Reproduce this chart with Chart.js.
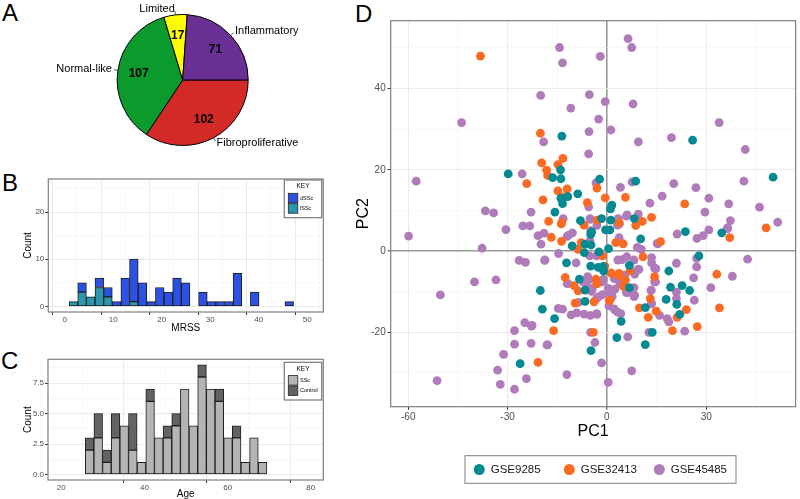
<!DOCTYPE html>
<html><head><meta charset="utf-8">
<script src="https://cdn.jsdelivr.net/npm/chart.js@4.4.1/dist/chart.umd.min.js"></script>
<style>
html,body{margin:0;padding:0;background:#fff;width:800px;height:499px;overflow:hidden;position:relative;}
canvas{position:absolute;}
.lt{position:absolute;font-family:"Liberation Sans",Arial,sans-serif;font-size:24px;line-height:24px;color:#000;}
</style></head><body>
<div class="lt" style="left:2px;top:1px">A</div>
<div class="lt" style="left:2px;top:171px">B</div>
<div class="lt" style="left:1px;top:349px">C</div>
<div class="lt" style="left:355px;top:2px">D</div>
<canvas id="cA" width="340" height="165" style="left:0;top:0"></canvas>
<canvas id="cB" width="340" height="170" style="left:0;top:165px"></canvas>
<canvas id="cC" width="340" height="169" style="left:0;top:330px"></canvas>
<canvas id="cD" width="460" height="499" style="left:340px;top:0"></canvas>
<script>
// ---------------- DATA ----------------
// Panel A: subtype counts (clockwise from 3 o'clock)
const subtypeLabels = ['Fibroproliferative', 'Normal-like', 'Limited', 'Inflammatory'];
const subtypeCounts = [102, 107, 17, 71];
const subtypeColors = ['#D42A27', '#0B9A2C', '#FFFF00', '#6A3096'];

// Panel B: MRSS histogram (bin centres, counts)
const mrssBins = [1.78,3.56,5.34,7.12,8.90,10.68,12.46,14.24,16.02,17.80,19.58,21.36,23.14,24.92,26.70,28.48,30.26,32.04,33.82,35.60,37.38,39.16,40.94,42.72,44.50,46.28];
const mrssLSSc = [1,3,2,4,2,0,0,1,0,0,0,0,0,0,0,0,0,0,0,0,0,0,0,0,0,0];
const mrssDSSc = [0,2,0,2,2,1,6,9,5,1,4,3,6,5,0,3,1,1,1,7,0,3,0,0,0,1];
const mrssKeys = ['dSSc', 'lSSc'];

// Panel C: Age histogram
const ageBins = [26.80,28.88,30.96,33.04,35.12,37.20,39.28,41.36,43.44,45.52,47.60,49.68,51.76,53.84,55.92,58.00,60.08,62.16,64.24,66.32,68.40];
const ageSSc = [2,3,1,3,4,2,1,6,3,3,4,7,4,8,7,6,3,3,1,3,1];
const ageControl = [1,2,1,2,0,3,0,1,0,1,1,0,0,1,0,1,0,1,0,0,0];
const ageKeys = ['SSc', 'Control'];

// Panel D: PCA scores [PC1, PC2]
const gse9285 = [[-13.6,28.3],[25.9,27.3],[-29.8,19.0],[-16.4,18.1],[-14.0,20.0],[-13.9,17.8],[-2.2,17.7],[8.7,17.2],[50.2,18.2],[-8.8,14.1],[-11.8,13.4],[-13.9,13.0],[-13.4,11.7],[1.5,11.3],[1.1,10.4],[-15.7,9.6],
[-20.1,-9.7],[-19.5,-14.3],[-15.8,-16.6],[-26.2,-27.7],[-4.8,-24.5],[3.0,-21.3],[11.6,-23.0],[13.7,-20.0],[4.3,-17.3],[22.0,-15.6],[11.6,-13.9],[17.9,-11.9],[21.1,-13.1],[22.7,-8.5],[25.0,-9.7],[19.2,-8.9],[27.8,-1.2],[18.7,-4.9],[23.7,4.8],[34.7,4.5],[8.3,8.0],[10.2,3.0],[0.5,0.6],[1.2,7.6],[-0.4,5.2],[0.9,5.2],[-1.6,8.0],[-8.0,7.5],[-4.9,4.1],[-10.5,1.3],[-6.6,1.7],[-4.8,1.5],[-6.8,-0.4],[-12.2,-2.9],[-4.9,-3.7],[-2.4,-0.2],[-2.6,-4.0],[-1.0,-4.9],[6.8,-3.5],[-8.3,-6.9],[-6.6,-9.6],[6.8,-9.0],[-4.6,4.7],[-6.6,-12.4],[-1.1,-3.8]];
const gse32413 = [[-38.2,48.0],[-20.1,29.0],[-13.3,22.8],[-19.7,21.7],[-14.8,21.3],[-18.2,19.9],[-17.9,18.6],[-24.2,16.6],[-3.0,15.5],[-12.0,15.3],[-14.8,14.8],[-12.7,13.4],[-0.5,13.1],[5.6,13.2],[-19.3,12.6],[-5.9,11.9],[23.5,11.6],[13.5,8.3],
[-16.1,-19.6],[-20.8,-27.4],[-4.1,-20.0],[19.8,-19.6],[27.3,-18.6],[21.2,-16.3],[12.5,-16.3],[14.9,-14.8],[9.8,-14.0],[24.0,-14.4],[34.0,-14.0],[13.1,-11.7],[33.2,-5.7],[14.4,-6.3],[10.9,-1.4],[16.2,2.3],[37.1,3.3],[48.1,5.7],[10.7,7.3],[8.7,6.3],[2.7,2.1],[4.9,1.8],[-1.3,-1.2],[-0.6,-3.7],[-6.9,6.4],[-2.9,7.6],[-13.6,7.0],[-16.8,3.4],[-17.6,7.3],[-13.7,2.4],[-8.7,0.4],[-7.8,2.1],[1.3,-5.4],[3.7,-5.5],[5.6,-7.1],[7.0,-4.8],[-12.6,-6.5],[-3.3,-6.9],[-2.9,-8.0],[-9.9,-8.5],[-8.7,-9.8],[0.9,-12.1],[-9.6,-12.8],[-3.9,-12.5],[3.7,7.0],[-13.8,6.7],[3.4,-6.0],[4.9,-8.6],[0.7,-12.2],[-3.1,-8.0]];
const gse45485 = [[-43.9,31.6],[-57.6,17.2],[-14.3,50.1],[-13.4,46.3],[-2.0,47.9],[6.4,52.3],[7.5,50.1],[-20.0,38.3],[-5.3,38.5],[-0.5,36.8],[7.9,36.2],[-10.9,35.2],[-2.5,32.5],[1.2,29.8],[-5.4,29.4],[33.9,31.6],[-19.1,26.9],[9.5,26.9],[19.5,27.9],[41.8,25.0],[-5.5,23.9],[-25.6,19.0],[-3.3,16.8],[7.6,17.0],[41.4,17.2],[20.2,16.6],[4.1,15.7],[26.9,15.6],[16.7,13.5],[30.8,13.0],[13.0,11.8],[36.8,11.6],[-5.5,10.9],[46.1,10.8],[-36.7,9.9],[-34.2,9.4],[-22.9,9.6],[29.6,9.6],[6.1,8.9],[9.5,9.1],
[-59.9,3.7],[-37.7,0.7],[-30.5,5.3],[-25.4,6.2],[-23.3,6.2],[-40.0,-7.6],[-33.5,-7.1],[-50.3,-10.8],[-26.5,-2.3],[-24.6,-2.8],[-18.7,-2.2],[-20.8,3.8],[-19.0,4.4],[-19.9,1.7],[-14.7,-14.1],[-13.4,-14.3],[-24.8,-17.6],[-22.8,-18.5],[-27.9,-19.6],[-27.9,-22.9],[-22.9,-22.7],[-17.9,-23.1],[-31.2,-25.4],[-33.0,-29.3],[-24.3,-31.4],[-32.2,-32.8],[-27.9,-34.0],[-51.3,-31.9],[-12.1,-30.4],[-3.6,-22.5],[-4.9,-20.0],[-1.6,-27.5],[0.4,-32.3],[6.3,-21.1],[7.5,-29.5],[12.7,-20.0],[23.5,-19.7],[18.2,-16.6],[18.7,-17.4],[15.9,-15.8],[21.0,-11.7],[26.4,-12.1],[21.0,-10.1],[26.2,-6.6],[31.4,-9.0],[37.9,-6.2],[42.5,-2.0],[27.1,-1.8],[27.1,-3.9],[14.8,-4.3],[14.7,-7.6],[13.4,-9.6],[13.5,-12.9],[21.0,-3.0],[13.5,-2.9],[13.5,-1.6],[15.2,1.9],[21.2,4.2],[27.2,3.1],[29.1,3.8],[30.8,5.2],[36.5,5.5],[37.3,7.5],[51.6,7.1],[36.4,5.7],[3.8,6.7],[3.2,6.4],[3.7,3.3],[9.2,0.9],[10.4,0.4],[-5.0,7.8],[-3.0,6.3],[-12.0,3.6],[-10.4,4.5],[-4.9,5.0],[-14.6,-0.6],[-9.3,-2.9],[-5.2,-1.2],[-3.1,-1.2],[3.7,-7.1],[3.3,-2.2],[4.6,-2.1],[6.0,-1.4],[5.4,-5.9],[8.4,-5.7],[9.7,-4.5],[8.2,-2.2],[-7.1,-7.3],[-5.8,-6.3],[-1.1,-7.0],[-12.0,-8.0],[-4.4,-9.2],[-2.4,-11.2],[-3.1,-11.7],[-1.3,-10.7],[0.4,-9.2],[0.6,-13.5],[2.4,-14.5],[4.2,-15.4],[1.6,-11.2],[5.9,-10.2],[8.2,-9.0],[8.2,-11.2],[-8.6,-12.6],[-10.8,-15.7],[-9.1,-15.2],[-6.9,-15.5],[-5.0,-15.8],[-3.0,-15.6],[-13.2,8.0],[-11.6,3.9],[-18.8,-2.3],[5.9,8.6],[3.4,8.0],[-5.1,8.0],[-5.1,2.5],[-5.4,-7.0],[-4.6,-9.9],[-1.4,-7.6],[1.2,-10.5],[2.4,-9.4],[2.2,-6.8],[3.9,-8.0],[6.4,-10.1],[8.4,-10.9],[2.2,-14.2],[3.3,-15.0],[-22.6,-18.3],[-18.1,-23.1],[-6.1,-8.5],[-7.1,-7.6],[-11.8,-8.0],[15.4,1.8],[9.4,-4.5],[14.4,-4.2],[14.4,-7.6],[13.3,-9.7],[13.4,-13.0],[-3.1,-15.4]];
const pcaSeries = ['GSE9285', 'GSE32413', 'GSE45485'];

// ---------------- STYLE / HELPERS ----------------
const FONT = '"Liberation Sans", Arial, Helvetica, sans-serif';
Chart.defaults.font.family = FONT;
Chart.defaults.color = '#000';

const isMult = (v, m) => Math.abs(v / m - Math.round(v / m)) < 1e-6;

function gridOpts(major) {
  return {
    color: c => (c.tick && isMult(c.tick.value, major)) ? '#EBEBEB' : '#F4F4F4',
    lineWidth: c => (c.tick && isMult(c.tick.value, major)) ? 1 : 0.6,
    tickColor: c => (c.tick && isMult(c.tick.value, major)) ? '#333333' : 'rgba(0,0,0,0)',
    tickLength: 3, tickWidth: 1, drawTicks: true
  };
}
const panelBorder = {
  id: 'panelBorder',
  afterDraw(chart) {
    const a = chart.chartArea, ctx = chart.ctx;
    ctx.save(); ctx.strokeStyle = '#7F7F7F'; ctx.lineWidth = 1.2;
    ctx.strokeRect(a.left, a.top, a.right - a.left, a.bottom - a.top);
    ctx.restore();
  }
};

// ---------------- PANEL A ----------------
const pieLabels = {
  id: 'pieLabels',
  afterDatasetsDraw(chart) {
    const ctx = chart.ctx, meta = chart.getDatasetMeta(0);
    ctx.save();
    meta.data.forEach((arc, i) => {
      const p = arc.getProps(['x', 'y', 'startAngle', 'endAngle', 'outerRadius'], true);
      const mid = (p.startAngle + p.endAngle) / 2, c = Math.cos(mid), s = Math.sin(mid), r = p.outerRadius;
      ctx.fillStyle = '#000';
      ctx.font = 'bold 12px ' + FONT; ctx.textAlign = 'center'; ctx.textBaseline = 'middle';
      ctx.fillText(String(chart.data.datasets[0].data[i]), p.x + c * r * 0.68, p.y + s * r * 0.68);
      ctx.strokeStyle = '#333'; ctx.lineWidth = 0.8;
      ctx.beginPath(); ctx.moveTo(p.x + c * r, p.y + s * r); ctx.lineTo(p.x + c * (r + 4), p.y + s * (r + 4)); ctx.stroke();
      ctx.font = '11px ' + FONT; ctx.textAlign = c < 0 ? 'right' : 'left';
      ctx.fillText(chart.data.labels[i], p.x + c * (r + 6), p.y + s * (r + 6));
    });
    ctx.restore();
  }
};
new Chart(document.getElementById('cA'), {
  type: 'pie',
  data: { labels: subtypeLabels, datasets: [{ data: subtypeCounts, backgroundColor: subtypeColors, borderColor: '#000', borderWidth: 1 }] },
  options: {
    responsive: false, animation: false, events: [], rotation: 90,
    layout: { padding: { left: 116.7, right: 91.3, top: 14, bottom: 19 } },
    plugins: { legend: { display: false }, tooltip: { enabled: false } }
  },
  plugins: [pieLabels]
});

// ---------------- PANELS B & C ----------------
function keyLegend(items, dx, dy) {
  return {
    id: 'keyLegend',
    afterDraw(chart) {
      const a = chart.chartArea, ctx = chart.ctx;
      const w = 37.4, h = 37.7, x0 = a.right - dx - w, y0 = a.top + dy;
      ctx.save();
      ctx.fillStyle = '#fff'; ctx.fillRect(x0, y0, w, h);
      ctx.strokeStyle = '#777'; ctx.lineWidth = 1.2; ctx.strokeRect(x0, y0, w, h);
      ctx.fillStyle = '#000'; ctx.font = '6.5px ' + FONT; ctx.textAlign = 'center'; ctx.textBaseline = 'middle';
      ctx.fillText('KEY', x0 + w / 2, y0 + 6.7);
      items.forEach((it, i) => {
        const sy = y0 + 13.3 + i * 10.4;
        ctx.fillStyle = it.color; ctx.fillRect(x0 + 4, sy, 9.5, 9.5);
        ctx.strokeStyle = '#222'; ctx.lineWidth = 0.8; ctx.strokeRect(x0 + 4, sy, 9.5, 9.5);
        ctx.fillStyle = '#000'; ctx.font = '5.5px ' + FONT; ctx.textAlign = 'left';
        ctx.fillText(it.label, x0 + 15.7, sy + 4.9);
      });
      ctx.restore();
    }
  };
}
function histChart(id, o) {
  const nz = arr => arr.map(v => v === 0 ? null : v);
  const ds = o.series.map(s => ({
    label: s.label, data: o.bins.map((b, i) => ({ x: b, y: nz(s.values)[i] })),
    backgroundColor: s.color, borderColor: '#1E1E1E', borderWidth: 1, borderSkipped: false,
    barPercentage: 1, categoryPercentage: 1
  }));
  return new Chart(document.getElementById(id), {
    type: 'bar',
    data: { datasets: ds },
    options: {
      responsive: false, animation: false, events: [],
      layout: { padding: o.padding },
      plugins: { legend: { display: false }, tooltip: { enabled: false } },
      scales: {
        x: {
          type: 'linear', stacked: true, min: o.xmin, max: o.xmax, offset: false,
          afterFit: s => { s.height = o.xh; },
          ticks: { stepSize: o.xstep, includeBounds: false, autoSkip: false, maxRotation: 0, padding: 0, color: '#4D4D4D', font: { size: 8 },
                   callback: v => isMult(v, o.xmajor) ? String(v) : '' },
          grid: gridOpts(o.xmajor), border: { display: false },
          title: { display: true, text: o.xtitle, font: { size: 10, lineHeight: 1 }, color: '#000', padding: { top: 0, bottom: o.xtpad } }
        },
        y: {
          type: 'linear', stacked: true, min: o.ymin, max: o.ymax,
          afterFit: s => { s.width = o.yw; },
          ticks: { stepSize: o.ystep, includeBounds: false, autoSkip: false, padding: 1, color: '#4D4D4D', font: { size: 8 },
                   callback: v => isMult(v, o.ymajor) ? o.yfmt(v) : '' },
          grid: gridOpts(o.ymajor), border: { display: false },
          title: { display: true, text: 'Count', font: { size: 10, lineHeight: 1 }, color: '#000', padding: { top: 23.3, bottom: 0 } }
        }
      }
    },
    plugins: [panelBorder, keyLegend(o.keys, 1.6, o.kdy)]
  });
}
histChart('cB', {
  bins: mrssBins,
  series: [{ label: mrssKeys[1], values: mrssLSSc, color: '#2B96B0' }, { label: mrssKeys[0], values: mrssDSSc, color: '#2D52E3' }],
  keys: [{ label: mrssKeys[0], color: '#2D52E3' }, { label: mrssKeys[1], color: '#2B96B0' }],
  padding: { top: 14, right: 16.7, left: 0, bottom: 0 },
  xmin: -3.4, xmax: 53.3, xstep: 5, xmajor: 10, xtitle: 'MRSS', xh: 23, xtpad: 1.5,
  ymin: -1.2, ymax: 27, ystep: 5, ymajor: 10, yw: 48.3, yfmt: v => String(v), kdy: 1
});
histChart('cC', {
  bins: ageBins,
  series: [{ label: ageKeys[0], values: ageSSc, color: '#B4B4B4' }, { label: ageKeys[1], values: ageControl, color: '#636363' }],
  keys: [{ label: ageKeys[0], color: '#B4B4B4' }, { label: ageKeys[1], color: '#636363' }],
  padding: { top: 29.3, right: 16.7, left: 0, bottom: 0 },
  xmin: 16.8, xmax: 83, xstep: 10, xmajor: 20, xtitle: 'Age', xh: 19, xtpad: 0,
  ymin: -0.45, ymax: 9.45, ystep: 1.25, ymajor: 2.5, yw: 48, yfmt: v => v.toFixed(1), kdy: 3
});

// ---------------- PANEL D ----------------
const pcaColors = ['#068A92', '#FB6A22', '#B07BB9'];
const dLegend = {
  id: 'dLegend',
  afterDraw(chart) {
    const ctx = chart.ctx;
    const bx = 125, by = 455.7, bw = 271, bh = 27.6;
    ctx.save();
    ctx.strokeStyle = '#7F7F7F'; ctx.lineWidth = 1; ctx.strokeRect(bx, by, bw, bh);
    ctx.font = '11.5px ' + FONT; ctx.textAlign = 'left'; ctx.textBaseline = 'middle';
    chart.data.datasets.forEach((d, i) => {
      const cx = bx + 14.3 + i * 90, cy = by + bh / 2;
      ctx.fillStyle = d.pointBackgroundColor;
      ctx.beginPath(); ctx.arc(cx, cy, 5.5, 0, Math.PI * 2); ctx.fill();
      ctx.fillStyle = '#1A1A1A'; ctx.fillText(d.label, cx + 11.4, cy + 0.5);
    });
    ctx.restore();
  }
};
function dGrid(major) {
  return {
    color: c => !c.tick ? '#EBEBEB' : (c.tick.value === 0 ? '#9A9A9A' : (isMult(c.tick.value, major) ? '#EBEBEB' : '#F4F4F4')),
    lineWidth: c => !c.tick ? 1 : (c.tick.value === 0 ? 1.6 : (isMult(c.tick.value, major) ? 1 : 0.6)),
    tickColor: c => (c.tick && isMult(c.tick.value, major)) ? '#333333' : 'rgba(0,0,0,0)',
    tickLength: 3, tickWidth: 1, drawTicks: true
  };
}
const pcaData = [gse9285, gse32413, gse45485];
new Chart(document.getElementById('cD'), {
  type: 'scatter',
  data: {
    datasets: pcaSeries.map((name, i) => ({
      label: name, data: pcaData[i].map(p => ({ x: p[0], y: p[1] })),
      pointBackgroundColor: pcaColors[i], backgroundColor: pcaColors[i], pointBorderWidth: 0, borderWidth: 0,
      pointRadius: 4.4, showLine: false
    }))
  },
  options: {
    responsive: false, animation: false, events: [],
    layout: { padding: { top: 20.7, right: 1, left: 0, bottom: 0 } },
    plugins: { legend: { display: false }, tooltip: { enabled: false } },
    scales: {
      x: {
        type: 'linear', min: -65.3, max: 57,
        afterFit: s => { s.height = 92.3; },
        ticks: { stepSize: 15, includeBounds: false, autoSkip: false, maxRotation: 0, padding: 2, color: '#4D4D4D', font: { size: 10 },
                 callback: v => isMult(v, 30) ? String(v) : '' },
        grid: dGrid(30), border: { display: false },
        title: { display: true, text: 'PC1', font: { size: 16 }, color: '#000', padding: { top: 0, bottom: 57.4 } }
      },
      y: {
        type: 'linear', min: -38.3, max: 56.7,
        afterFit: s => { s.width = 50.7; },
        ticks: { stepSize: 10, includeBounds: false, autoSkip: false, padding: 2, color: '#4D4D4D', font: { size: 10 },
                 callback: v => isMult(v, 20) ? String(v) : '' },
        grid: dGrid(20), border: { display: false },
        title: { display: true, text: 'PC2', font: { size: 16 }, color: '#000', padding: { top: 14.4, bottom: 0 } }
      }
    }
  },
  plugins: [panelBorder, dLegend]
});
</script>
</body></html>
